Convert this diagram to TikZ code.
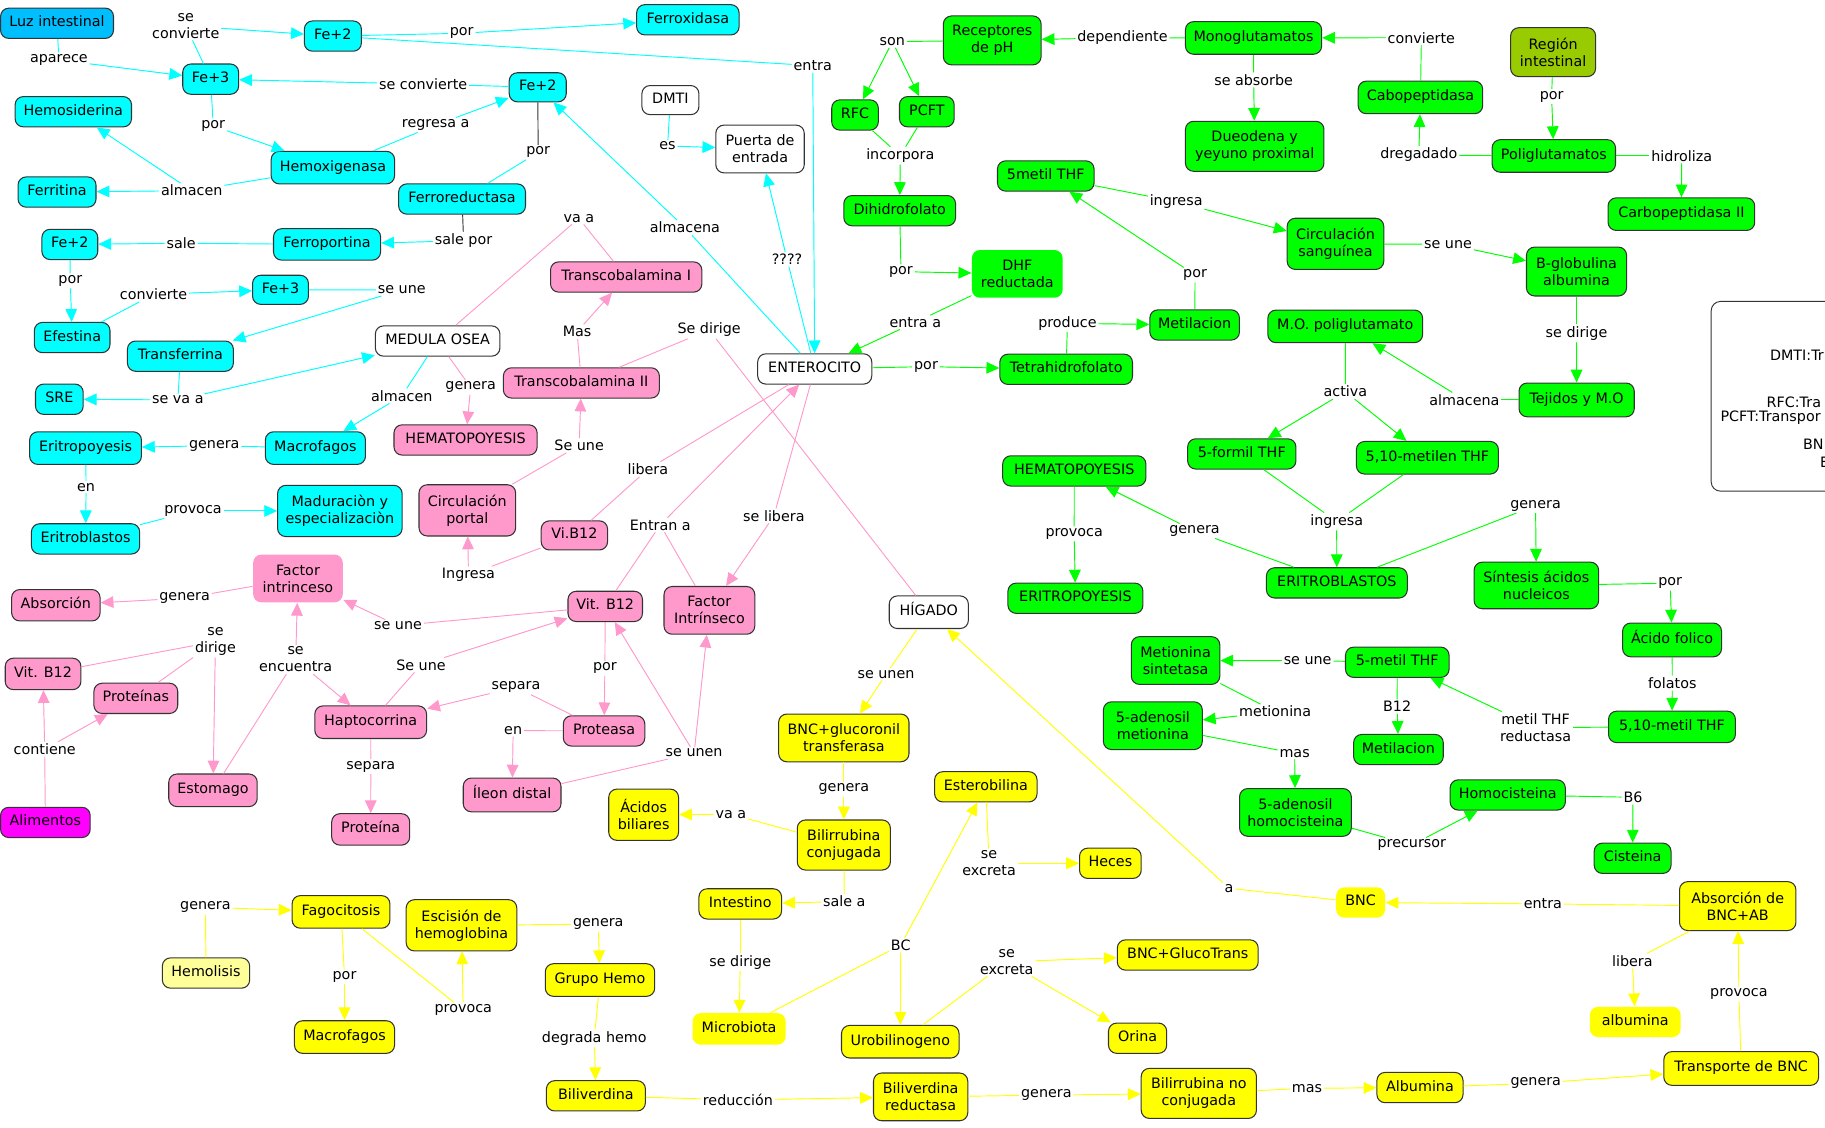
\documentclass[tikz,border=0pt]{standalone}
\usepackage{fontspec}
\setmainfont{DejaVu Sans}
\usetikzlibrary{arrows.meta}
\definecolor{cyC}{HTML}{00FFFF}
\definecolor{pkC}{HTML}{FF99CC}
\definecolor{grC}{HTML}{00FF00}
\definecolor{yeC}{HTML}{FFFF00}
\definecolor{luzC}{HTML}{00BFFF}
\definecolor{regC}{HTML}{99CC00}
\definecolor{alC}{HTML}{FF00FF}
\definecolor{hemC}{HTML}{FFFF99}
\definecolor{bdC}{HTML}{333333}
\newcommand\cmN[7]{\node[#2,onel,minimum width=#5pt,minimum height=#6pt] (#1) at (#3,#4) {#7};}
\newcommand\cmT[7]{\node[#2,twol,minimum width=#5pt,minimum height=#6pt] (#1) at (#3,#4) {#7};}
\newcommand\cmL[4]{\node[lbl] (#1) at (#2,#3) {#4};}
\tikzset{
 bx/.style={rounded corners=7pt, draw=bdC, line width=0.9pt, inner sep=2pt, font=\fontsize{12.3}{14.6}\selectfont},
 onel/.style={text height=9pt, text depth=3pt},
 twol/.style={align=center},
 cyN/.style={bx, fill=cyC},
 pkN/.style={bx, fill=pkC},
 grN/.style={bx, fill=grC},
 yeN/.style={bx, fill=yeC},
 whN/.style={bx, fill=white},
 lbl/.style={inner sep=1.5pt, align=center, font=\fontsize{12.3}{14.6}\selectfont},
 lnk/.style={line width=0.8pt},
 tipA/.style={-{Triangle[length=11pt,width=10pt]}},
 cyl/.style={lnk, draw=cyC}, cya/.style={cyl, tipA, fill=cyC},
 pkl/.style={lnk, draw=pkC}, pka/.style={pkl, tipA, fill=pkC},
 grl/.style={lnk, draw=grC}, gra/.style={grl, tipA, fill=grC},
 yel/.style={lnk, draw=yeC}, yea/.style={yel, tipA, fill=yeC},
 bkl/.style={lnk, draw=bdC},
 legt/.style={anchor=west, inner sep=0pt, font=\fontsize{12.3}{14.6}\selectfont},
}
\begin{document}
\begin{tikzpicture}[x=1pt,y=-1pt]
\useasboundingbox (0,0) rectangle (1568,969);
% ---------- legend
\node[draw=bdC, line width=0.8pt, rounded corners=8pt, minimum width=200pt, minimum height=163pt, anchor=north west, inner sep=0pt, fill=white] (legend) at (1469.8,258.6) {};
\node[legt] (legA) at (1520.6,305) {DMTI:Tr};
\node[legt] (legB) at (1517.7,346) {RFC:Tra};
\node[legt] (legC) at (1478,359) {PCFT:Transpor};
\node[legt] (legD) at (1549,382) {BN};
\node[legt] (legE) at (1563.5,397) {E};
% ---------- cyan nodes
\cmN{luz}{cyN,fill=luzC}{49}{20}{97}{26}{Luz intestinal}
\cmN{fe2a}{cyN}{286}{31}{49}{26}{Fe+2}
\cmN{ferrox}{cyN}{591}{17}{88}{26}{Ferroxidasa}
\cmN{fe3a}{cyN}{181}{68}{48}{26}{Fe+3}
\cmN{fe2b}{cyN}{462}{75}{49}{25}{Fe+2}
\cmN{hemosid}{cyN}{63}{96}{100}{26}{Hemosiderina}
\cmN{hemox}{cyN}{286}{144}{106}{28}{Hemoxigenasa}
\cmN{ferrit}{cyN}{49}{165}{67}{26}{Ferritina}
\cmN{ferrored}{cyN}{397}{171}{109}{26}{Ferroreductasa}
\cmN{fe2c}{cyN}{60}{210}{48}{26}{Fe+2}
\cmN{ferroport}{cyN}{281}{210}{92}{27}{Ferroportina}
\cmN{fe3c}{cyN}{241}{249}{48}{25}{Fe+3}
\cmN{efest}{cyN}{62}{290}{65}{26}{Efestina}
\cmN{transf}{cyN}{155}{306}{91}{26}{Transferrina}
\cmN{sre}{cyN}{51}{343}{41}{26}{SRE}
\cmN{eritropo}{cyN}{73.5}{385}{96}{28}{Eritropoyesis}
\cmN{macroA}{cyN}{271}{385}{86}{28}{Macrofagos}
\cmT{madur}{cyN}{292}{439}{107}{44}{Maduraciòn y\\especializaciòn}
\cmN{eritrobl}{cyN}{73.5}{463}{93}{26}{Eritroblastos}
% ---------- white nodes
\cmN{dmti}{whN}{576}{86}{49}{25}{DMTI}
\cmT{puerta}{whN}{653}{128}{76}{41}{Puerta de\\entrada}
\cmN{entero}{whN}{700}{317}{98}{26}{ENTEROCITO}
\cmN{medula}{whN}{376}{293}{107}{26}{MEDULA OSEA}
\cmN{higado}{whN}{798}{526}{68}{28}{HÍGADO}
% ---------- pink nodes
\cmN{tcI}{pkN}{538}{238}{130}{26}{Transcobalamina I}
\cmN{tcII}{pkN}{499.5}{329}{134}{26}{Transcobalamina II}
\cmN{hematoP}{pkN}{400}{378}{123}{26}{HEMATOPOYESIS}
\cmT{circport}{pkN}{401.5}{438.5}{83}{44}{Circulación\\portal}
\cmN{vib12}{pkN}{493.5}{460}{57}{25}{Vi.B12}
\cmT{fintA}{pkN,draw=none}{256}{497}{77}{41}{Factor\\intrinceso}
\cmN{absorc}{pkN}{48}{520}{76}{27}{Absorción}
\cmN{vitc}{pkN}{520}{521}{64}{26}{Vit. B12}
\cmT{fintB}{pkN}{609.5}{524.4}{78}{41}{Factor\\Intrínseco}
\cmN{vitl}{pkN}{37}{579}{65}{27}{Vit. B12}
\cmN{proteinas}{pkN}{116.7}{600}{72}{26}{Proteínas}
\cmN{hapto}{pkN}{318.5}{620.5}{96}{28}{Haptocorrina}
\cmN{proteasa}{pkN}{519}{628}{70}{26}{Proteasa}
\cmN{estom}{pkN}{183}{679}{76}{28}{Estomago}
\cmN{ileon}{pkN}{440}{683}{84}{29}{Íleon distal}
\cmN{proteina}{pkN}{318.5}{712.6}{67}{27}{Proteína}
\cmN{alim}{pkN,fill=alC}{39}{706.6}{77}{26}{Alimentos}
% ---------- green nodes
\cmT{recep}{grN}{852.5}{34.7}{84}{42}{Receptores\\de pH}
\cmN{monog}{grN}{1077}{32.6}{117}{28}{Monoglutamatos}
\cmT{region}{grN,fill=regC}{1334.4}{44.8}{73}{42}{Región\\intestinal}
\cmN{cabo}{grN}{1220.4}{83.7}{107}{28}{Cabopeptidasa}
\cmN{rfc}{grN}{734.6}{98.8}{40}{26}{RFC}
\cmN{pcft}{grN}{796.3}{96}{47}{26}{PCFT}
\cmT{dueo}{grN}{1078}{125.7}{119}{43}{Dueodena y\\yeyuno proximal}
\cmN{polig}{grN}{1335}{134}{106}{28}{Poliglutamatos}
\cmN{metthf}{grN}{898.5}{151.2}{83}{26}{5metil THF}
\cmN{dihid}{grN}{773}{181}{96}{26}{Dihidrofolato}
\cmN{carbo}{grN}{1444.6}{184}{126}{28}{Carbopeptidasa II}
\cmT{dhf}{grN,draw=none}{874}{235.3}{78}{41}{DHF\\reductada}
\cmT{circsang}{grN}{1147.4}{209.5}{83}{44}{Circulación\\sanguínea}
\cmT{bglob}{grN}{1354.5}{233.3}{86}{42}{B-globulina\\albumina}
\cmN{metilA}{grN}{1026.4}{279.2}{77}{26}{Metilacion}
\cmN{mopoli}{grN}{1155.8}{280.4}{133}{28}{M.O. poliglutamato}
\cmN{tetra}{grN}{916}{317.3}{114}{26}{Tetrahidrofolato}
\cmN{tejidos}{grN}{1354.6}{343.6}{99}{29}{Tejidos y M.O}
\cmN{formil}{grN}{1066.9}{390}{93}{26}{5-formil THF}
\cmN{metilen}{grN}{1226.4}{393.3}{122}{28}{5,10-metilen THF}
\cmN{hematoG}{grN}{923}{404.6}{123}{26}{HEMATOPOYESIS}
\cmN{eritroblG}{grN}{1148.6}{500.8}{121}{26}{ERITROBLASTOS}
\cmN{eritropoG}{grN}{924}{514}{116}{26}{ERITROPOYESIS}
\cmT{sintesis}{grN}{1320}{503}{107}{40}{Síntesis ácidos\\nucleicos}
\cmN{acfol}{grN}{1436.6}{549.8}{85}{29}{Ácido folico}
\cmT{metsint}{grN}{1010}{567.5}{76}{41}{Metionina\\sintetasa}
\cmN{metthfB}{grN}{1200.5}{569}{89}{26}{5-metil THF}
\cmT{adenmet}{grN}{990.5}{623.5}{85}{41}{5-adenosil\\metionina}
\cmN{metilB}{grN}{1201.5}{644}{77}{26}{Metilacion}
\cmN{metilDiez}{grN}{1436.5}{624.5}{109}{27}{5,10-metil THF}
\cmT{adenhom}{grN}{1113}{698}{96}{41}{5-adenosil\\homocisteina}
\cmN{homoc}{grN}{1295.4}{683}{99}{26}{Homocisteina}
\cmN{cist}{grN}{1402.7}{737.4}{66}{26}{Cisteina}
% ---------- yellow nodes
\cmT{bncglu}{yeN}{725}{634}{112}{41}{BNC+glucoronil\\transferasa}
\cmN{estero}{yeN}{847}{676}{88}{26}{Esterobilina}
\cmT{acbil}{yeN}{553}{700}{60}{44}{Ácidos\\biliares}
\cmT{bilconj}{yeN}{725}{726}{80}{43}{Bilirrubina\\conjugada}
\cmN{heces}{yeN}{954}{741.7}{53}{26}{Heces}
\cmN{intest}{yeN}{636}{776.6}{71}{26}{Intestino}
\cmN{bnc}{yeN,draw=none}{1169}{775.4}{42}{26}{BNC}
\cmT{absbnc}{yeN}{1493}{778.5}{100}{42}{Absorción de\\BNC+AB}
\cmN{fago}{yeN}{293}{783.5}{84}{28}{Fagocitosis}
\cmT{escis}{yeN}{396.5}{795}{95}{44}{Escisión de\\hemoglobina}
\cmN{bncgt}{yeN}{1020.5}{820.5}{121}{26}{BNC+GlucoTrans}
\cmN{hemol}{yeN,fill=hemC}{177}{836}{75}{26}{Hemolisis}
\cmN{grupo}{yeN}{515.5}{842}{94}{28}{Grupo Hemo}
\cmN{microb}{yeN,draw=none}{635}{884}{80}{27}{Microbiota}
\cmN{macroB}{yeN}{296}{891}{86}{28}{Macrofagos}
\cmN{urob}{yeN}{773.5}{895}{101}{28}{Urobilinogeno}
\cmN{orina}{yeN}{977.4}{892}{50}{26}{Orina}
\cmN{albuA}{yeN,draw=none}{1405}{878}{78}{26}{albumina}
\cmN{biliv}{yeN}{512}{941.5}{85}{26}{Biliverdina}
\cmT{bilivred}{yeN}{791}{942.4}{81}{41}{Biliverdina\\reductasa}
\cmT{bilnc}{yeN}{1030}{939.4}{99}{43}{Bilirrubina no\\conjugada}
\cmN{albuB}{yeN}{1220}{934.4}{74}{26}{Albumina}
\cmN{transp}{yeN}{1496}{918}{133}{29}{Transporte de BNC}
% ---------- labels cyan
\cmL{lApar}{50.6}{51.5}{aparece}
\cmL{lSeconvA}{159.6}{22.2}{se\\convierte}
\cmL{lPorA}{396.7}{28.6}{por}
\cmL{lEntra}{698.3}{56.4}{entra}
\cmL{lSeconvB}{363.6}{72.2}{se convierte}
\cmL{lPorB}{183.2}{108.2}{por}
\cmL{lRegresa}{374.3}{107.4}{regresa a}
\cmL{lPorC}{462.4}{130.9}{por}
\cmL{lAlmacenA}{164.8}{163.8}{almacen}
\cmL{lSalepor}{398.3}{206.8}{sale por}
\cmL{lSale}{155.6}{209}{sale}
\cmL{lPorD}{60.4}{241.4}{por}
\cmL{lConvierte}{131.9}{252.9}{convierte}
\cmL{lSeuneA}{345.2}{249.1}{se une}
\cmL{lSevaa}{152.8}{343.6}{se va a}
\cmL{lAlmacenB}{345.2}{340.2}{almacen}
\cmL{lGeneraA}{184.1}{382.9}{genera}
\cmL{lEnA}{74}{418.6}{en}
\cmL{lProvocaA}{165.8}{439}{provoca}
\cmL{lAlmacena}{588.5}{195.6}{almacena}
\cmL{lEs}{573.5}{125.4}{es}
\cmL{lQ}{676.2}{222.8}{????}
% ---------- labels pink
\cmL{lVaa}{497.3}{187.6}{va a}
\cmL{lMas}{495.8}{285}{Mas}
\cmL{lSedirigeA}{609.3}{283.5}{Se dirige}
\cmL{lGeneraB}{404.4}{332.8}{genera}
\cmL{lSeuneB}{497.6}{382.7}{Se une}
\cmL{lLibera}{556.6}{403.2}{libera}
\cmL{lEntran}{567.3}{451}{Entran a}
\cmL{lSelibera}{664.9}{443.3}{se libera}
\cmL{lIngresaA}{402.5}{494}{Ingresa}
\cmL{lGeneraC}{158.6}{513.9}{genera}
\cmL{lSeuneC}{342}{537.5}{se une}
\cmL{lSedirigeB}{185.1}{551.2}{se\\dirige}
\cmL{lSeencuentra}{254}{566.6}{se\\encuentra}
\cmL{lSeuneD}{361.7}{571.3}{Se une}
\cmL{lPorE}{519.7}{574.2}{por}
\cmL{lSeparaA}{443.3}{590.5}{separa}
\cmL{lEnB}{440.9}{627.7}{en}
\cmL{lContiene}{38.4}{643.7}{contiene}
\cmL{lSeparaB}{318.6}{658.6}{separa}
\cmL{lSeunenA}{596.4}{647}{se unen}
% ---------- labels green
\cmL{lSon}{766.7}{35.8}{son}
\cmL{lDep}{964.4}{32.4}{dependiente}
\cmL{lConvB}{1221.2}{32.4}{convierte}
\cmL{lSeabs}{1077.1}{68.7}{se absorbe}
\cmL{lPorF}{1333.1}{83}{por}
\cmL{lDreg}{1219}{133.2}{dregadado}
\cmL{lHidro}{1444.9}{134}{hidroliza}
\cmL{lIncorp}{773.5}{133.7}{incorpora}
\cmL{lPorG}{774.1}{233.4}{por}
\cmL{lEntraa}{786.4}{276.9}{entra a}
\cmL{lPorH}{795.6}{315}{por}
\cmL{lProduce}{917.1}{277.8}{produce}
\cmL{lPorI}{1026.8}{236.3}{por}
\cmL{lIngresaB}{1010.5}{173.3}{ingresa}
\cmL{lSeuneE}{1244.1}{209.9}{se une}
\cmL{lSedirigeC}{1354.5}{286.4}{se dirige}
\cmL{lAlmacenaB}{1258.2}{343.6}{almacena}
\cmL{lActiva}{1155.9}{336.5}{activa}
\cmL{lIngresaC}{1148.4}{448.1}{ingresa}
\cmL{lGeneraD}{1026.3}{456.2}{genera}
\cmL{lProvocaB}{922.9}{458.7}{provoca}
\cmL{lGeneraE}{1319.3}{434.4}{genera}
\cmL{lPorJ}{1435}{501.1}{por}
\cmL{lFolatos}{1436.8}{587}{folatos}
\cmL{lMetred}{1319.3}{625.1}{metil THF\\reductasa}
\cmL{lSeuneF}{1123.5}{567.6}{se une}
\cmL{lBdoce}{1200.4}{607.1}{B12}
\cmL{lMetionina}{1095.5}{611.4}{metionina}
\cmL{lMasB}{1112.3}{647.2}{mas}
\cmL{lPrecursor}{1213}{726}{precursor}
\cmL{lBseis}{1403}{685}{B6}
% ---------- labels yellow
\cmL{lSeunenB}{761.2}{579.3}{se unen}
\cmL{lGeneraF}{725}{678}{genera}
\cmL{lVaaB}{628}{699.6}{va a}
\cmL{lSalea}{725.4}{774.6}{sale a}
\cmL{lSedirigeD}{636}{826.8}{se dirige}
\cmL{lBC}{773.9}{812}{BC}
\cmL{lSeexcA}{849.8}{741.7}{se\\excreta}
\cmL{lSeexcB}{865}{826.4}{se\\excreta}
\cmL{lA}{1056}{763.2}{a}
\cmL{lEntraB}{1325.6}{776.6}{entra}
\cmL{lLiberaB}{1402.5}{825.6}{libera}
\cmL{lProvocaC}{1494}{854.2}{provoca}
\cmL{lGeneraG}{176.5}{779.5}{genera}
\cmL{lPorK}{296}{839}{por}
\cmL{lProvocaD}{398}{867.6}{provoca}
\cmL{lGeneraH}{514}{794}{genera}
\cmL{lDegrada}{510.6}{892}{degrada hemo}
\cmL{lReduc}{634}{945}{reducción}
\cmL{lGeneraI}{899}{940.9}{genera}
\cmL{lMasC}{1122.9}{935}{mas}
\cmL{lGeneraJ}{1319.5}{930.7}{genera}
% ========== cyan connectors
\draw[cyl] (luz) -- (lApar); \draw[cya] (lApar) -- (fe3a);
\draw[cyl] (fe3a) -- (lSeconvA); \draw[cya] (lSeconvA) -- (fe2a);
\draw[cyl] (fe2a) -- (lPorA); \draw[cya] (lPorA) -- (ferrox);
\draw[cyl] (fe2a) -- (lEntra); \draw[cya] (lEntra) -- (entero);
\draw[cyl] (fe2b) -- (lSeconvB); \draw[cya] (lSeconvB) -- (fe3a);
\draw[cyl] (fe3a) -- (lPorB); \draw[cya] (lPorB) -- (hemox);
\draw[cyl] (hemox) -- (lRegresa); \draw[cya] (lRegresa) -- (fe2b);
\draw[bkl] (fe2b) -- (lPorC); \draw[cyl] (lPorC) -- (ferrored);
\draw[cyl] (hemox) -- (lAlmacenA); \draw[cya] (lAlmacenA) -- (hemosid); \draw[cya] (lAlmacenA) -- (ferrit);
\draw[bkl] (ferrored) -- (lSalepor); \draw[cya] (lSalepor) -- (ferroport);
\draw[cyl] (ferroport) -- (lSale); \draw[cya] (lSale) -- (fe2c);
\draw[cyl] (fe2c) -- (lPorD); \draw[cya] (lPorD) -- (efest);
\draw[cyl] (efest) -- (lConvierte); \draw[cya] (lConvierte) -- (fe3c);
\draw[cyl] (fe3c) -- (lSeuneA); \draw[cya] (lSeuneA) -- (transf);
\draw[cyl] (transf) -- (lSevaa); \draw[cya] (lSevaa) -- (sre); \draw[cya] (lSevaa) -- (medula);
\draw[cyl] (medula) -- (lAlmacenB); \draw[cya] (lAlmacenB) -- (macroA);
\draw[cyl] (macroA) -- (lGeneraA); \draw[cya] (lGeneraA) -- (eritropo);
\draw[cyl] (eritropo) -- (lEnA); \draw[cya] (lEnA) -- (eritrobl);
\draw[cyl] (eritrobl) -- (lProvocaA); \draw[cya] (lProvocaA) -- (madur);
\draw[cyl] (entero) -- (lAlmacena); \draw[cya] (lAlmacena) -- (fe2b);
\draw[cyl] (dmti) -- (lEs); \draw[cya] (lEs) -- (puerta);
\draw[cyl] (entero) -- (lQ); \draw[cya] (lQ) -- (puerta);
% ========== pink connectors
\draw[pkl] (medula) -- (lVaa); \draw[pkl] (lVaa) -- (tcI);
\draw[pkl] (tcII) -- (lMas); \draw[pka] (lMas) -- (tcI);
\draw[pkl] (tcII) -- (lSedirigeA); \draw[pkl] (lSedirigeA) -- (higado);
\draw[pkl] (medula) -- (lGeneraB); \draw[pka] (lGeneraB) -- (hematoP);
\draw[pkl] (circport) -- (lSeuneB); \draw[pka] (lSeuneB) -- (tcII);
\draw[pkl] (vib12) -- (lLibera); \draw[pkl] (lLibera) -- (entero);
\draw[pkl] (vitc) -- (lEntran); \draw[pkl] (fintB) -- (lEntran); \draw[pka] (lEntran) -- (entero);
\draw[pkl] (entero) -- (lSelibera); \draw[pka] (lSelibera) -- (fintB);
\draw[pkl] (vib12) -- (lIngresaA); \draw[pka] (lIngresaA) -- (circport);
\draw[pkl] (fintA) -- (lGeneraC); \draw[pka] (lGeneraC) -- (absorc);
\draw[pkl] (vitc) -- (lSeuneC); \draw[pka] (lSeuneC) -- (fintA);
\draw[pkl] (vitl) -- (lSedirigeB); \draw[pkl] (proteinas) -- (lSedirigeB); \draw[pka] (lSedirigeB) -- (estom);
\draw[pkl] (estom) -- (lSeencuentra); \draw[pka] (lSeencuentra) -- (fintA); \draw[pka] (lSeencuentra) -- (hapto);
\draw[pkl] (hapto) -- (lSeuneD); \draw[pka] (lSeuneD) -- (vitc);
\draw[pkl] (vitc) -- (lPorE); \draw[pka] (lPorE) -- (proteasa);
\draw[pkl] (proteasa) -- (lSeparaA); \draw[pka] (lSeparaA) -- (hapto);
\draw[pkl] (proteasa) -- (lEnB); \draw[pka] (lEnB) -- (ileon);
\draw[pkl] (hapto) -- (lSeparaB); \draw[pka] (lSeparaB) -- (proteina);
\draw[pkl] (alim) -- (lContiene); \draw[pka] (lContiene) -- (vitl); \draw[pka] (lContiene) -- (proteinas);
\draw[pkl] (ileon) -- (lSeunenA); \draw[pka] (lSeunenA) -- (vitc); \draw[pka] (lSeunenA) -- (fintB);
% ========== green connectors
\draw[grl] (recep) -- (lSon); \draw[gra] (lSon) -- (rfc); \draw[gra] (lSon) -- (pcft);
\draw[grl] (monog) -- (lDep); \draw[gra] (lDep) -- (recep);
\draw[grl] (cabo) -- (lConvB); \draw[gra] (lConvB) -- (monog);
\draw[grl] (monog) -- (lSeabs); \draw[gra] (lSeabs) -- (dueo);
\draw[grl] (region) -- (lPorF); \draw[gra] (lPorF) -- (polig);
\draw[grl] (polig) -- (lDreg); \draw[gra] (lDreg) -- (cabo);
\draw[grl] (polig) -- (lHidro); \draw[gra] (lHidro) -- (carbo);
\draw[grl] (rfc) -- (lIncorp); \draw[grl] (pcft) -- (lIncorp); \draw[gra] (lIncorp) -- (dihid);
\draw[grl] (dihid) -- (lPorG); \draw[gra] (lPorG) -- (dhf);
\draw[grl] (dhf) -- (lEntraa); \draw[gra] (lEntraa) -- (entero);
\draw[grl] (entero) -- (lPorH); \draw[gra] (lPorH) -- (tetra);
\draw[grl] (tetra) -- (lProduce); \draw[gra] (lProduce) -- (metilA);
\draw[grl] (metilA) -- (lPorI); \draw[gra] (lPorI) -- (metthf);
\draw[grl] (metthf) -- (lIngresaB); \draw[gra] (lIngresaB) -- (circsang);
\draw[grl] (circsang) -- (lSeuneE); \draw[gra] (lSeuneE) -- (bglob);
\draw[grl] (bglob) -- (lSedirigeC); \draw[gra] (lSedirigeC) -- (tejidos);
\draw[grl] (tejidos) -- (lAlmacenaB); \draw[gra] (lAlmacenaB) -- (mopoli);
\draw[grl] (mopoli) -- (lActiva); \draw[gra] (lActiva) -- (formil); \draw[gra] (lActiva) -- (metilen);
\draw[grl] (formil) -- (lIngresaC); \draw[grl] (metilen) -- (lIngresaC); \draw[gra] (lIngresaC) -- (eritroblG);
\draw[grl] (eritroblG) -- (lGeneraD); \draw[gra] (lGeneraD) -- (hematoG);
\draw[grl] (hematoG) -- (lProvocaB); \draw[gra] (lProvocaB) -- (eritropoG);
\draw[grl] (eritroblG) -- (lGeneraE); \draw[gra] (lGeneraE) -- (sintesis);
\draw[grl] (sintesis) -- (lPorJ); \draw[gra] (lPorJ) -- (acfol);
\draw[grl] (acfol) -- (lFolatos); \draw[gra] (lFolatos) -- (metilDiez);
\draw[grl] (metilDiez) -- (lMetred); \draw[gra] (lMetred) -- (metthfB);
\draw[grl] (metthfB) -- (lSeuneF); \draw[gra] (lSeuneF) -- (metsint);
\draw[grl] (metthfB) -- (lBdoce); \draw[gra] (lBdoce) -- (metilB);
\draw[grl] (metsint) -- (lMetionina); \draw[gra] (lMetionina) -- (adenmet);
\draw[grl] (adenmet) -- (lMasB); \draw[gra] (lMasB) -- (adenhom);
\draw[grl] (adenhom) -- (lPrecursor); \draw[gra] (lPrecursor) -- (homoc);
\draw[grl] (homoc) -- (lBseis); \draw[gra] (lBseis) -- (cist);
% ========== yellow connectors
\draw[yel] (higado) -- (lSeunenB); \draw[yea] (lSeunenB) -- (bncglu);
\draw[yel] (bncglu) -- (lGeneraF); \draw[yea] (lGeneraF) -- (bilconj);
\draw[yel] (bilconj) -- (lVaaB); \draw[yea] (lVaaB) -- (acbil);
\draw[yel] (bilconj) -- (lSalea); \draw[yea] (lSalea) -- (intest);
\draw[yel] (intest) -- (lSedirigeD); \draw[yea] (lSedirigeD) -- (microb);
\draw[yel] (microb) -- (lBC); \draw[yea] (lBC) -- (estero); \draw[yea] (lBC) -- (urob);
\draw[yel] (estero) -- (lSeexcA); \draw[yea] (lSeexcA) -- (heces);
\draw[yel] (urob) -- (lSeexcB); \draw[yea] (lSeexcB) -- (bncgt); \draw[yea] (lSeexcB) -- (orina);
\draw[yel] (bnc) -- (lA); \draw[yea] (lA) -- (higado);
\draw[yel] (absbnc) -- (lEntraB); \draw[yea] (lEntraB) -- (bnc);
\draw[yel] (absbnc) -- (lLiberaB); \draw[yea] (lLiberaB) -- (albuA);
\draw[yel] (transp) -- (lProvocaC); \draw[yea] (lProvocaC) -- (absbnc);
\draw[yel] (hemol) -- (lGeneraG); \draw[yea] (lGeneraG) -- (fago);
\draw[yel] (fago) -- (lPorK); \draw[yea] (lPorK) -- (macroB);
\draw[yel] (fago) -- (lProvocaD); \draw[yea] (lProvocaD) -- (escis);
\draw[yel] (escis) -- (lGeneraH); \draw[yea] (lGeneraH) -- (grupo);
\draw[yel] (grupo) -- (lDegrada); \draw[yea] (lDegrada) -- (biliv);
\draw[yel] (biliv) -- (lReduc); \draw[yea] (lReduc) -- (bilivred);
\draw[yel] (bilivred) -- (lGeneraI); \draw[yea] (lGeneraI) -- (bilnc);
\draw[yel] (bilnc) -- (lMasC); \draw[yea] (lMasC) -- (albuB);
\draw[yel] (albuB) -- (lGeneraJ); \draw[yea] (lGeneraJ) -- (transp);
\end{tikzpicture}
\end{document}
